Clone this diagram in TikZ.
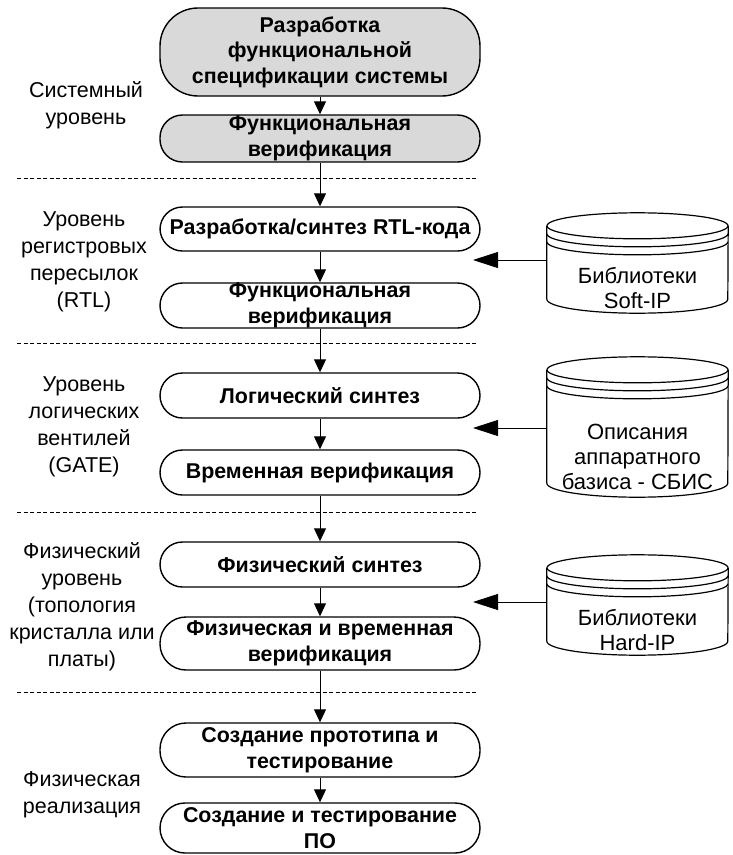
\documentclass[tikz,border=0pt]{standalone}
\usepackage{fontspec}
\setmainfont{Liberation Sans}
\usetikzlibrary{arrows.meta}
\begin{document}
\begin{tikzpicture}[x=1pt,y=1pt,
  stage/.style={draw, line width=1.4pt, rectangle, rounded corners=22.5pt,
    minimum width=320pt, inner sep=0pt, align=center,
    font=\bfseries\fontsize{21.4}{25.5}\selectfont},
  graystage/.style={stage, fill=black!15},
  lvl/.style={align=center, inner sep=0pt, font=\fontsize{21.5}{27}\selectfont},
  cyltext/.style={align=center, inner sep=0pt, font=\fontsize{22}{25}\selectfont},
  cylbody/.style={minimum width=181pt, inner sep=0pt},
  cylline/.style={line width=1.2pt},
  varrow/.style={line width=1pt, -{Triangle[length=13pt,width=12pt]}},
  harrow/.style={line width=1pt, -{Triangle[length=25pt,width=16pt]}},
  sep/.style={line width=1pt, dash pattern=on 4pt off 2.5pt}
]
\useasboundingbox (0,0) rectangle (733,-855);

% stages
\node[graystage, minimum height=88pt, rounded corners=38pt] (b1) at (320,-52)
  {Разработка\\функциональной\\спецификации системы};
\node[graystage, minimum height=47pt] (b2) at (320,-138.5)
  {Функциональная\\верификация};
\node[stage, minimum height=44pt] (b3) at (320,-229)
  {Разработка/синтез RTL-кода};
\node[stage, minimum height=45pt] (b4) at (320,-305.5)
  {Функциональная\\верификация};
\node[stage, minimum height=45pt] (b5) at (320,-395.5)
  {Логический синтез};
\node[stage, minimum height=45pt] (b6) at (320,-472.5)
  {Временная верификация};
\node[stage, minimum height=45pt] (b7) at (320,-564.5)
  {Физический синтез};
\node[stage, minimum height=53pt, rounded corners=26pt] (b8) at (320,-643.5)
  {Физическая и временная\\верификация};
\node[stage, minimum height=54pt, rounded corners=26pt] (b9) at (320,-750)
  {Создание прототипа и\\тестирование};
\node[stage, minimum height=50pt, rounded corners=25pt] (b10) at (320,-828)
  {Создание и тестирование\\ПО};

% level separators
\draw[sep] (17,-178) -- (478,-178);
\draw[sep] (17,-343) -- (478,-343);
\draw[sep] (17,-512) -- (478,-512);
\draw[sep] (17,-692) -- (478,-692);

% vertical arrows
\draw[varrow] (b1) -- (b2);
\draw[varrow] (b2) -- (b3);
\draw[varrow] (b3) -- (b4);
\draw[varrow] (b4) -- (b5);
\draw[varrow] (b5) -- (b6);
\draw[varrow] (b6) -- (b7);
\draw[varrow] (b7) -- (b8);
\draw[varrow] (b8) -- (b9);
\draw[varrow] (b9) -- (b10);

% level labels
\node[lvl] (l1) at (86,-105) {Системный\\уровень};
\node[lvl] (l2) at (84,-262) {Уровень\\регистровых\\пересылок\\(RTL)};
\node[lvl] (l3) at (84,-427) {Уровень\\логических\\вентилей\\(GATE)};
\node[lvl] (l4) at (82,-607) {Физический\\уровень\\(топология\\кристалла или\\платы)};
\node[lvl] (l5) at (82,-795) {Физическая\\реализация};

% cylinders
\node[cylbody, minimum height=73pt] (c1) at (637.5,-262.5) {};
\node[cylbody, minimum height=113pt] (c2) at (637.5,-426.5) {};
\node[cylbody, minimum height=73pt] (c3) at (637.5,-604.5) {};
\foreach \c in {c1,c2,c3}{
  \draw[cylline, fill=white] (\c.north west) -- (\c.south west)
    arc[start angle=180, end angle=360, x radius=90.5pt, y radius=14pt]
    -- (\c.north east);
  \draw[cylline, fill=white] (\c.north) ellipse[x radius=90.5pt, y radius=13pt];
  \draw[cylline] ([yshift=-8pt]\c.north west)
    arc[start angle=180, end angle=360, x radius=90.5pt, y radius=13pt];
  \draw[cylline] ([yshift=-16pt]\c.north west)
    arc[start angle=180, end angle=360, x radius=90.5pt, y radius=13pt];
}
\node[cyltext] (t1) at (637.5,-288) {Библиотеки\\Soft-IP};
\node[cyltext] (t2) at (637.5,-457) {Описания\\аппаратного\\базиса - СБИС};
\node[cyltext] (t3) at (637.5,-630) {Библиотеки\\Hard-IP};

% library arrows
\coordinate (p1) at (473,-260);
\coordinate (p2) at (473,-428);
\coordinate (p3) at (473,-602);
\draw[harrow] (c1.west |- p1) -- (p1);
\draw[harrow] (c2.west |- p2) -- (p2);
\draw[harrow] (c3.west |- p3) -- (p3);
\end{tikzpicture}
\end{document}
